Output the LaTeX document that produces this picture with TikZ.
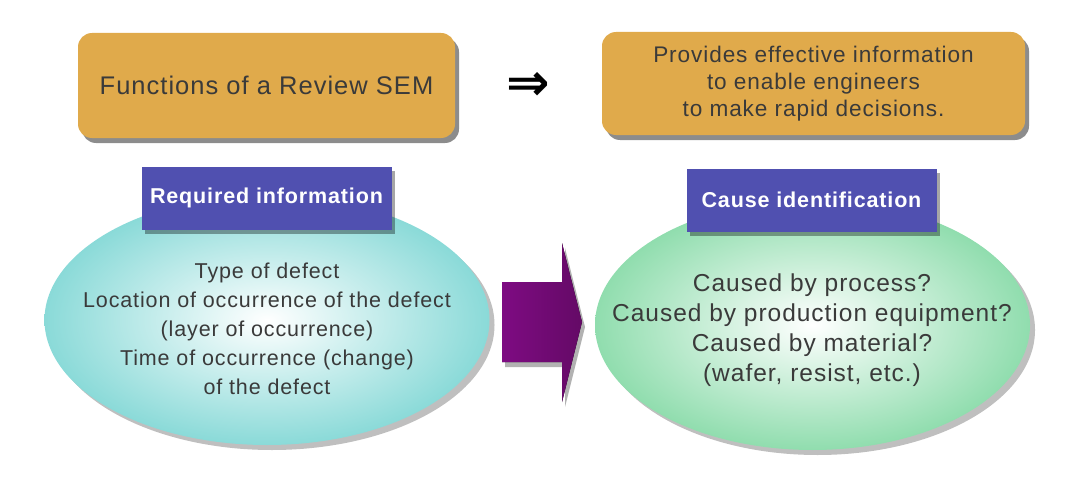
\documentclass[tikz,border=0pt]{standalone}
\usepackage{fontspec}
\setmainfont[LetterSpace=4]{Liberation Sans}
\newfontfamily\symbolfont{DejaVu Sans}
\usetikzlibrary{shapes.geometric,shadows,positioning}
\definecolor{boxgold}{HTML}{E0AA4B}
\definecolor{tagblue}{HTML}{5050B0}
\definecolor{cyanfill}{HTML}{8ADAD8}
\definecolor{greenfill}{HTML}{90DDAE}
\definecolor{arrowpurple}{HTML}{7E0B82}
\definecolor{arrowdark}{HTML}{640A66}
\definecolor{textgray}{HTML}{3A3A3A}

\begin{document}
\begin{tikzpicture}[x=1pt,y=-1pt,
  goldbox/.style={fill=boxgold, rounded corners=14pt, text=textgray, align=center,
    drop shadow={shadow xshift=4pt, shadow yshift=-5pt, fill=black, opacity=.45}},
  tagbox/.style={fill=tagblue, minimum width=250pt, minimum height=63pt, text=white,
    font=\fontsize{21.5}{24}\selectfont\bfseries,
    drop shadow={shadow xshift=3pt, shadow yshift=-4pt, fill=black, opacity=.35}},
  oval/.style={ellipse, minimum height=250pt, inner color=white,
    drop shadow={shadow xshift=5pt, shadow yshift=-5pt, fill=black, opacity=.25}},
  ovaltext/.style={text=textgray, align=center}
]
  \useasboundingbox (0,0) rectangle (1075,484);

  \node[goldbox, minimum width=377pt, minimum height=105pt,
    font=\fontsize{25.5}{27}\selectfont] (func) at (266.5,85.5) {Functions of a Review SEM};
  \node[goldbox, minimum width=423pt, minimum height=103pt,
    font=\fontsize{22.6}{27}\selectfont] (gain) at (813.5,83.5)
    {Provides effective information\\to enable engineers\\to make rapid decisions.};
  \node[font=\symbolfont\bfseries\fontsize{52}{52}\selectfont, inner sep=0pt] (imp) at (528,86) {⇒};

  \node[oval, minimum width=445pt, outer color=cyanfill] (reqoval) at (267,320) {};
  \node[oval, minimum width=435pt, outer color=greenfill] (causeoval) at (812.5,325) {};

  \fill[left color=arrowpurple, right color=arrowdark,
    drop shadow={shadow xshift=3pt, shadow yshift=-5pt, fill=black, opacity=.3}]
    (502,282) -- (562,282) -- (562,243) -- (582,322) -- (562,402) -- (562,362) -- (502,362) -- cycle;

  \node[tagbox] (req) at (266.5,198) {Required information};
  \node[tagbox] (cause) at (811.5,200) {Cause identification};

  \node[ovaltext, font=\fontsize{21.5}{29}\selectfont] (reqtext) at (267,329)
    {Type of defect\\Location of occurrence of the defect\\(layer of occurrence)\\Time of occurrence (change)\\of the defect};
  \node[ovaltext, font=\fontsize{24.5}{30}\selectfont] (causetext) at (812,330)
    {Caused by process?\\Caused by production equipment?\\Caused by material?\\(wafer, resist, etc.)};
\end{tikzpicture}
\end{document}
